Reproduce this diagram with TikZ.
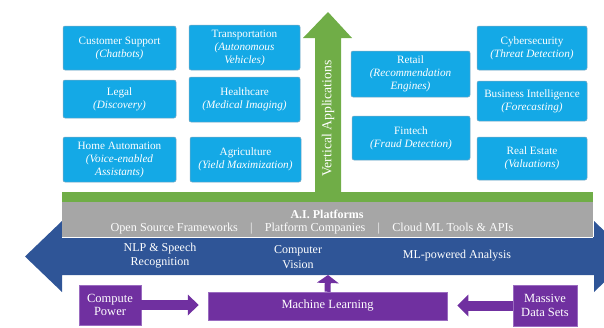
\documentclass[tikz,border=0pt]{standalone}
\usepackage{fontspec}
\setmainfont{Liberation Serif}
\usetikzlibrary{arrows.meta}
\definecolor{appblue}{HTML}{14A9E6}
\definecolor{boxedge}{HTML}{7FA8C0}
\definecolor{vgreen}{HTML}{70AD47}
\definecolor{pgray}{HTML}{A6A6A6}
\definecolor{bandblue}{HTML}{2F5597}
\definecolor{mlpurple}{HTML}{7030A0}
\definecolor{purpedge}{HTML}{9A6BC0}
\tikzset{
  appbox/.style={draw=boxedge, line width=0.5pt, fill=appblue, rounded corners=2pt, text=white,
    align=center, inner sep=1pt, font=\fontsize{11.2}{13}\selectfont},
  purpbox/.style={draw=purpedge, line width=0.5pt, fill=mlpurple, text=white, align=center,
    inner sep=1pt, font=\fontsize{12.5}{13.5}\selectfont},
  bandtext/.style={text=white, align=center, font=\fontsize{12}{14.5}\selectfont},
  parrow/.style={draw=mlpurple, line cap=butt},
}
\begin{document}
\begin{tikzpicture}[x=1pt,y=-1pt]
\useasboundingbox (0,0) rectangle (604,327);
% application boxes
\node[appbox, minimum width=113pt, minimum height=44pt] (cs) at (119.5,48) {Customer Support\\\textit{(Chatbots)}};
\node[appbox, minimum width=111pt, minimum height=45pt] (tr) at (244.5,47.5) {Transportation\\\textit{(Autonomous}\\\textit{Vehicles)}};
\node[appbox, minimum width=113pt, minimum height=38pt] (lg) at (119.5,99) {Legal\\\textit{(Discovery)}};
\node[appbox, minimum width=111pt, minimum height=45pt] (hc) at (244.5,99.5) {Healthcare\\\textit{(Medical Imaging)}};
\node[appbox, minimum width=113pt, minimum height=45pt] (ha) at (119.5,159.5) {Home Automation\\\textit{(Voice-enabled}\\\textit{Assistants)}};
\node[appbox, minimum width=111pt, minimum height=45pt] (ag) at (245.5,159.5) {Agriculture\\\textit{(Yield Maximization)}};
\node[appbox, minimum width=119pt, minimum height=46pt] (rt) at (410.5,74) {Retail\\\textit{(Recommendation}\\\textit{Engines)}};
\node[appbox, minimum width=118pt, minimum height=44pt] (ft) at (411,138) {Fintech\\\textit{(Fraud Detection)}};
\node[appbox, minimum width=110pt, minimum height=44pt] (cy) at (532,48) {Cybersecurity\\\textit{(Threat Detection)}};
\node[appbox, minimum width=110pt, minimum height=40pt] (bi) at (532,101) {Business Intelligence\\\textit{(Forecasting)}};
\node[appbox, minimum width=110pt, minimum height=43pt] (re) at (532,158.5) {Real Estate\\\textit{(Valuations)}};
% blue double arrow band
\fill[bandblue] (25,256.5) -- (62,221) -- (62,237) -- (594,237) -- (594,221) -- (631,256.5)
  -- (594,292) -- (594,275) -- (62,275) -- (62,292) -- cycle;
\coordinate (bandbot) at (328,275);
% green vertical arrow
\fill[vgreen] (315,193) -- (315,38) -- (303,38) -- (328,12) -- (352,38) -- (341,38) -- (341,193) -- cycle;
\node[rotate=90, text=white, font=\fontsize{13.7}{15}\selectfont] (va) at (328,118.5) {Vertical Applications};
% green bar
\fill[vgreen] (62,192) rectangle (593,202);
% gray platform bar
\fill[pgray] (62,202) rectangle (593,236.5);
\draw[white, line width=0.8pt] (62,237) -- (593,237);
\node[text=white, font=\fontsize{12}{13}\selectfont\bfseries] (plat) at (327,214) {A.I. Platforms};
\node[text=white!95!pgray, font=\fontsize{12.2}{13}\selectfont] (platitems) at (312,228.5)
  {Open Source Frameworks\quad|\quad Platform Companies\quad|\quad Cloud ML Tools \& APIs};
% band texts
\node[bandtext] (nlp) at (160,255.5) {NLP \& Speech\\Recognition};
\node[bandtext] (cv) at (298,257) {Computer\\Vision};
\node[bandtext] (mla) at (457,256) {ML-powered Analysis};
% purple boxes
\node[purpbox, minimum width=62pt, minimum height=40pt] (cp) at (110,305) {Compute\\Power};
\node[purpbox, minimum width=239pt, minimum height=28pt] (ml) at (327.5,306) {Machine Learning};
\node[purpbox, minimum width=64pt, minimum height=41pt] (md) at (545,305.5) {Massive\\Data Sets};
% purple arrows
\draw[parrow, line width=10pt, -{Triangle[width=21pt,length=11pt,line width=0pt]}]
  (cp.east) -- ([xshift=-9pt]ml.west |- cp.east);
\draw[parrow, line width=10pt, -{Triangle[width=22pt,length=11pt,line width=0pt]}]
  (md.west) -- ([xshift=10pt]ml.east |- md.west);
\draw[parrow, line width=6pt, -{Triangle[width=22pt,length=8pt,line width=0pt]}]
  (ml.north) -- (bandbot);
\end{tikzpicture}
\end{document}
